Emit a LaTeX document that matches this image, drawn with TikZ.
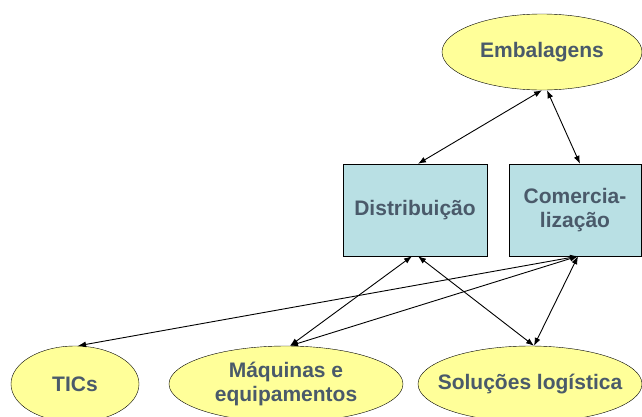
\documentclass[tikz,border=0pt]{standalone}
\usepackage{fontspec}
\setmainfont{Liberation Sans}
\usetikzlibrary{shapes.geometric,arrows.meta}
\definecolor{lbl}{RGB}{74,90,106}
\definecolor{ellfill}{RGB}{255,255,153}
\definecolor{boxfill}{RGB}{185,224,228}
\tikzset{
  oval/.style={draw, ellipse, fill=ellfill, inner sep=0pt, minimum height=76pt, align=center,
    text=lbl, font=\fontsize{21}{24}\selectfont\bfseries},
  area/.style={draw, rectangle, fill=boxfill, inner sep=0pt, minimum height=92pt, align=center,
    text=lbl, font=\fontsize{21}{24}\selectfont\bfseries},
  link/.style={<->, line width=0.9pt, >={Latex[length=8pt,width=6pt]}}
}
\begin{document}
\begin{tikzpicture}[x=1pt, y=-1pt]
  \useasboundingbox (0,0) rectangle (642,416);
  \node[oval, minimum width=200pt] (Emb) at (542,52) {Embalagens};
  \node[area, minimum width=144pt] (Dist) at (415,210) {Distribuição};
  \node[area, minimum width=132pt] (Com) at (575,210) {Comercia-\\lização};
  \node[oval, minimum width=128pt] (TIC) at (75,384) {TICs};
  \node[oval, minimum width=234pt] (Maq) at (286,384) {Máquinas e\\equipamentos};
  \node[oval, minimum width=224pt, inner xsep=-14pt] (Sol) at (530,384) {Soluções logística};
  \draw[link] (Emb.south) -- ([xshift=3pt]Dist.north);
  \draw[link] ([xshift=5pt]Emb.south) -- ([xshift=5pt]Com.north);
  \draw[link] ([xshift=-3pt]Dist.south) -- ([xshift=4pt]Maq.north);
  \draw[link] ([xshift=3pt]Dist.south) -- ([xshift=4pt]Sol.north);
  \draw[link] ([xshift=3pt]Com.south) -- ([xshift=3pt]TIC.north);
  \draw[link] ([xshift=3pt]Com.south) -- ([xshift=4pt]Maq.north);
  \draw[link] ([xshift=3pt]Com.south) -- ([xshift=4pt]Sol.north);
\end{tikzpicture}
\end{document}
